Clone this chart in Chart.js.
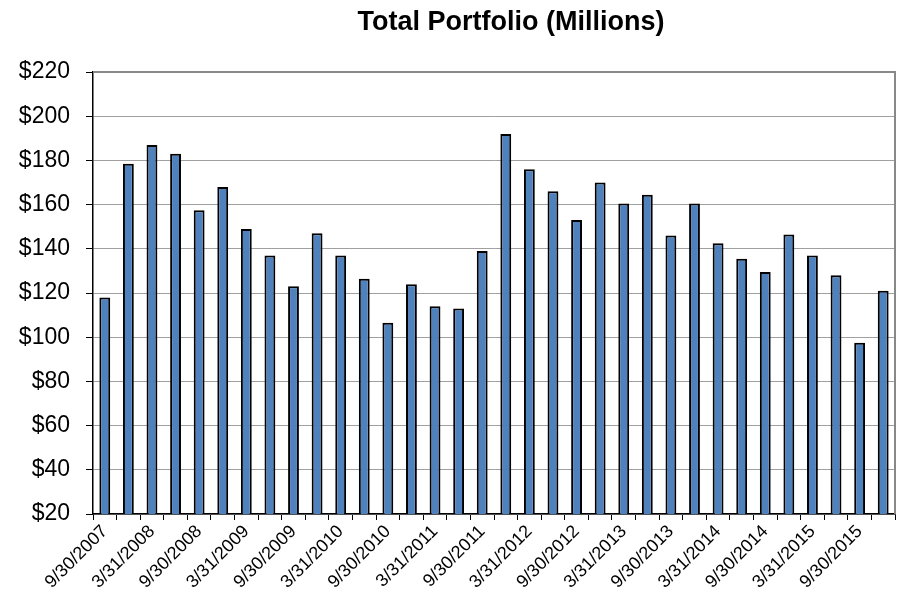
<!DOCTYPE html>
<html lang="en">
<head>
  <meta charset="UTF-8" />
  <title>Total Portfolio (Millions)</title>
  <script src="https://cdn.jsdelivr.net/npm/chart.js"></script>
  <style>
    html, body { margin: 0; padding: 0; background: #fff; }
    #wrap { position: relative; width: 909px; height: 605px; }
    #title {
      position: absolute; top: 6px; left: 311px; width: 400px;
      text-align: center; white-space: nowrap;
      font: bold 27px "Liberation Sans", Arial, sans-serif; color: #000;
    }
  </style>
</head>
<body>
  <div id="wrap">
    <div id="title">Total Portfolio (Millions)</div>
    <canvas id="chart" width="909" height="605"></canvas>
  </div>
  <script>
    const quarters = [
      '9/30/2007', '12/31/2007', '3/31/2008', '6/30/2008', '9/30/2008', '12/31/2008',
      '3/31/2009', '6/30/2009', '9/30/2009', '12/31/2009', '3/31/2010', '6/30/2010',
      '9/30/2010', '12/31/2010', '3/31/2011', '6/30/2011', '9/30/2011', '12/31/2011',
      '3/31/2012', '6/30/2012', '9/30/2012', '12/31/2012', '3/31/2013', '6/30/2013',
      '9/30/2013', '12/31/2013', '3/31/2014', '6/30/2014', '9/30/2014', '12/31/2014',
      '3/31/2015', '6/30/2015', '9/30/2015', '12/31/2015'
    ];
    const portfolio = [
      118, 178.5, 187, 183, 157.5, 168, 149, 137, 123, 147, 137, 126.5,
      106.5, 124, 114, 113, 139, 192, 176, 166, 153, 170, 160.5, 164.5,
      146, 160.5, 142.5, 135.5, 129.5, 146.5, 137, 128, 97.5, 121
    ];
    const yMin = 20, yMax = 220, yStep = 20;

    const font = { family: '"Liberation Sans", Arial, sans-serif' };

    new Chart(document.getElementById('chart'), {
      type: 'bar',
      data: {
        labels: quarters,
        datasets: [{
          label: 'Total Portfolio',
          data: portfolio,
          backgroundColor: '#4F81BD',
          borderColor: '#000000',
          borderWidth: 2,
          borderSkipped: 'bottom',
          barPercentage: 0.46,
          categoryPercentage: 1.0
        }]
      },
      options: {
        responsive: false,
        animation: false,
        layout: { padding: { top: 72, right: 14, left: 0, bottom: 0 } },
        plugins: {
          legend: { display: false },
          title: { display: false },
          tooltip: { enabled: false }
        },
        scales: {
          x: {
            offset: true,
            grid: {
              offset: true,
              drawOnChartArea: false,
              drawTicks: true,
              tickLength: 6,
              color: '#000'
            },
            border: { color: '#000', width: 1.5 },
            ticks: {
              autoSkip: false,
              maxRotation: 45,
              minRotation: 45,
              padding: 1,
              color: '#000',
              font: { ...font, size: 18 },
              callback: function (value, index) {
                return index % 2 === 0 ? this.getLabelForValue(value) : '';
              }
            },
            afterFit: (scale) => { scale.height = 91; }
          },
          y: {
            min: yMin,
            max: yMax,
            grid: {
              color: '#a0a0a0',
              lineWidth: 1,
              drawTicks: true,
              tickLength: 7,
              tickColor: '#000'
            },
            border: { color: '#000', width: 1.5 },
            ticks: {
              stepSize: yStep,
              padding: 16,
              color: '#000',
              font: { ...font, size: 23 },
              callback: (v) => '$' + v
            },
            afterFit: (scale) => { scale.width = 93; }
          }
        }
      },
      plugins: [{
        id: 'plotFrame',
        afterDraw(chart) {
          const { ctx, chartArea: a } = chart;
          ctx.save();
          ctx.strokeStyle = '#888';
          ctx.lineWidth = 2;
          ctx.beginPath();
          ctx.moveTo(a.left, a.top);
          ctx.lineTo(a.right, a.top);
          ctx.lineTo(a.right, a.bottom);
          ctx.stroke();
          ctx.restore();
        }
      }]
    });
  </script>
</body>
</html>
